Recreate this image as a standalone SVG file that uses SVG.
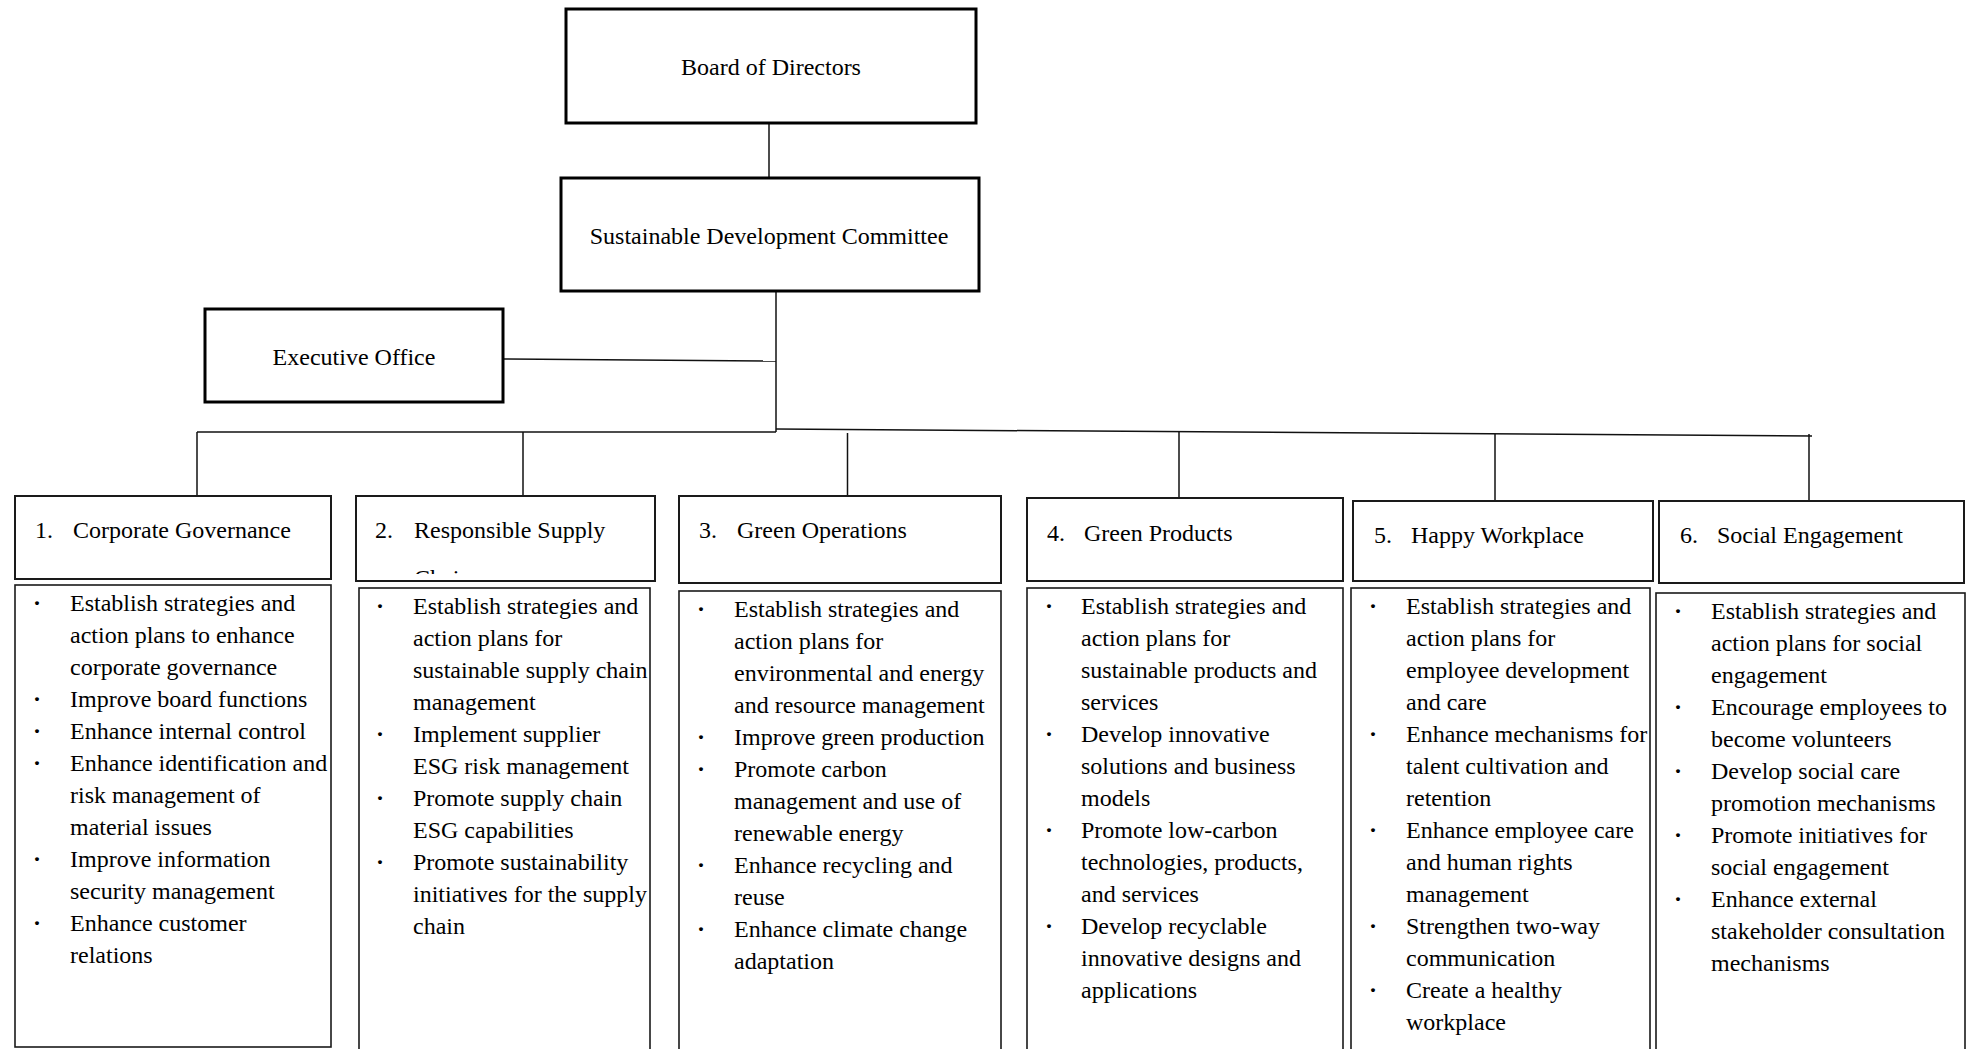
<svg xmlns="http://www.w3.org/2000/svg" width="1968" height="1049" viewBox="0 0 1968 1049">
<style>
text{font-family:"Liberation Serif","Times New Roman",serif;font-size:24px;fill:#000}
.b{font-weight:bold}
.top{fill:#fff;stroke:#000;stroke-width:3}
.hdr{fill:#fff;stroke:#1a1a1a;stroke-width:2}
.body{fill:#fff;stroke:#1a1a1a;stroke-width:1.6}
.c{text-anchor:middle}
.con line{stroke:#111;stroke-width:1.5}
</style>
<defs>
<clipPath id="clip2"><rect x="356" y="496" width="299" height="78"/></clipPath>
</defs>
<rect width="1968" height="1049" fill="#fff"/>
<g class="con" id="connectors">
<line x1="769" y1="123" x2="769" y2="178"/>
<line x1="776" y1="291" x2="776" y2="432"/>
<line x1="504" y1="359" x2="776" y2="361"/>
<line x1="197" y1="432" x2="776" y2="432"/>
<line x1="776" y1="429" x2="1812" y2="436"/>
<line x1="197" y1="432" x2="197" y2="496"/>
<line x1="523" y1="432" x2="523" y2="496"/>
<line x1="847.5" y1="433" x2="847.5" y2="496"/>
<line x1="1179" y1="431" x2="1179" y2="498"/>
<line x1="1495" y1="434" x2="1495" y2="501"/>
<line x1="1809" y1="434" x2="1809" y2="501"/>
</g>
<g id="board">
<rect class="top" x="566" y="9" width="410" height="114"/>
<text class="c" x="771" y="75">Board of Directors</text>
</g>
<g id="sdc">
<rect class="top" x="561" y="178" width="418" height="113"/>
<text class="c" x="769" y="244">Sustainable Development Committee</text>
</g>
<g id="exec">
<rect class="top" x="205" y="309" width="298" height="93"/>
<text class="c" x="354" y="365">Executive Office</text>
</g>
<g id="pillar1">
<rect class="hdr" x="15" y="496" width="316" height="83"/>
<text x="35" y="538">1.</text><text x="73" y="538">Corporate Governance</text>
<rect class="body" x="15" y="585" width="316" height="462"/>
<g>
<text class="b" x="33" y="611">·</text><text x="70" y="611">Establish strategies and</text>
<text x="70" y="643">action plans to enhance</text>
<text x="70" y="675">corporate governance</text>
<text class="b" x="33" y="707">·</text><text x="70" y="707">Improve board functions</text>
<text class="b" x="33" y="739">·</text><text x="70" y="739">Enhance internal control</text>
<text class="b" x="33" y="771">·</text><text x="70" y="771">Enhance identification and</text>
<text x="70" y="803">risk management of</text>
<text x="70" y="835">material issues</text>
<text class="b" x="33" y="867">·</text><text x="70" y="867">Improve information</text>
<text x="70" y="899">security management</text>
<text class="b" x="33" y="931">·</text><text x="70" y="931">Enhance customer</text>
<text x="70" y="963">relations</text>
</g>
</g>
<g id="pillar2">
<rect class="hdr" x="356" y="496" width="299" height="85"/>
<text x="375" y="538">2.</text><text x="414" y="538">Responsible Supply</text>
<text x="414" y="586" clip-path="url(#clip2)">Chain</text>
<rect class="body" x="359" y="588" width="291" height="470"/>
<g>
<text class="b" x="376" y="614">·</text><text x="413" y="614">Establish strategies and</text>
<text x="413" y="646">action plans for</text>
<text x="413" y="678">sustainable supply chain</text>
<text x="413" y="710">management</text>
<text class="b" x="376" y="742">·</text><text x="413" y="742">Implement supplier</text>
<text x="413" y="774">ESG risk management</text>
<text class="b" x="376" y="806">·</text><text x="413" y="806">Promote supply chain</text>
<text x="413" y="838">ESG capabilities</text>
<text class="b" x="376" y="870">·</text><text x="413" y="870">Promote sustainability</text>
<text x="413" y="902">initiatives for the supply</text>
<text x="413" y="934">chain</text>
</g>
</g>
<g id="pillar3">
<rect class="hdr" x="679" y="496" width="322" height="87"/>
<text x="699" y="538">3.</text><text x="737" y="538">Green Operations</text>
<rect class="body" x="679" y="591" width="322" height="470"/>
<g>
<text class="b" x="697" y="617">·</text><text x="734" y="617">Establish strategies and</text>
<text x="734" y="649">action plans for</text>
<text x="734" y="681">environmental and energy</text>
<text x="734" y="713">and resource management</text>
<text class="b" x="697" y="745">·</text><text x="734" y="745">Improve green production</text>
<text class="b" x="697" y="777">·</text><text x="734" y="777">Promote carbon</text>
<text x="734" y="809">management and use of</text>
<text x="734" y="841">renewable energy</text>
<text class="b" x="697" y="873">·</text><text x="734" y="873">Enhance recycling and</text>
<text x="734" y="905">reuse</text>
<text class="b" x="697" y="937">·</text><text x="734" y="937">Enhance climate change</text>
<text x="734" y="969">adaptation</text>
</g>
</g>
<g id="pillar4">
<rect class="hdr" x="1027" y="498" width="316" height="83"/>
<text x="1047" y="541">4.</text><text x="1084" y="541">Green Products</text>
<rect class="body" x="1027" y="588" width="316" height="470"/>
<g>
<text class="b" x="1045" y="614">·</text><text x="1081" y="614">Establish strategies and</text>
<text x="1081" y="646">action plans for</text>
<text x="1081" y="678">sustainable products and</text>
<text x="1081" y="710">services</text>
<text class="b" x="1045" y="742">·</text><text x="1081" y="742">Develop innovative</text>
<text x="1081" y="774">solutions and business</text>
<text x="1081" y="806">models</text>
<text class="b" x="1045" y="838">·</text><text x="1081" y="838">Promote low-carbon</text>
<text x="1081" y="870">technologies, products,</text>
<text x="1081" y="902">and services</text>
<text class="b" x="1045" y="934">·</text><text x="1081" y="934">Develop recyclable</text>
<text x="1081" y="966">innovative designs and</text>
<text x="1081" y="998">applications</text>
</g>
</g>
<g id="pillar5">
<rect class="hdr" x="1353" y="501" width="300" height="80"/>
<text x="1374" y="543">5.</text><text x="1411" y="543">Happy Workplace</text>
<rect class="body" x="1351" y="588" width="299" height="470"/>
<g>
<text class="b" x="1369" y="614">·</text><text x="1406" y="614">Establish strategies and</text>
<text x="1406" y="646">action plans for</text>
<text x="1406" y="678">employee development</text>
<text x="1406" y="710">and care</text>
<text class="b" x="1369" y="742">·</text><text x="1406" y="742">Enhance mechanisms for</text>
<text x="1406" y="774">talent cultivation and</text>
<text x="1406" y="806">retention</text>
<text class="b" x="1369" y="838">·</text><text x="1406" y="838">Enhance employee care</text>
<text x="1406" y="870">and human rights</text>
<text x="1406" y="902">management</text>
<text class="b" x="1369" y="934">·</text><text x="1406" y="934">Strengthen two-way</text>
<text x="1406" y="966">communication</text>
<text class="b" x="1369" y="998">·</text><text x="1406" y="998">Create a healthy</text>
<text x="1406" y="1030">workplace</text>
</g>
</g>
<g id="pillar6">
<rect class="hdr" x="1659" y="501" width="305" height="82"/>
<text x="1680" y="543">6.</text><text x="1717" y="543">Social Engagement</text>
<rect class="body" x="1656" y="593" width="309" height="470"/>
<g>
<text class="b" x="1674" y="619">·</text><text x="1711" y="619">Establish strategies and</text>
<text x="1711" y="651">action plans for social</text>
<text x="1711" y="683">engagement</text>
<text class="b" x="1674" y="715">·</text><text x="1711" y="715">Encourage employees to</text>
<text x="1711" y="747">become volunteers</text>
<text class="b" x="1674" y="779">·</text><text x="1711" y="779">Develop social care</text>
<text x="1711" y="811">promotion mechanisms</text>
<text class="b" x="1674" y="843">·</text><text x="1711" y="843">Promote initiatives for</text>
<text x="1711" y="875">social engagement</text>
<text class="b" x="1674" y="907">·</text><text x="1711" y="907">Enhance external</text>
<text x="1711" y="939">stakeholder consultation</text>
<text x="1711" y="971">mechanisms</text>
</g>
</g>
</svg>
